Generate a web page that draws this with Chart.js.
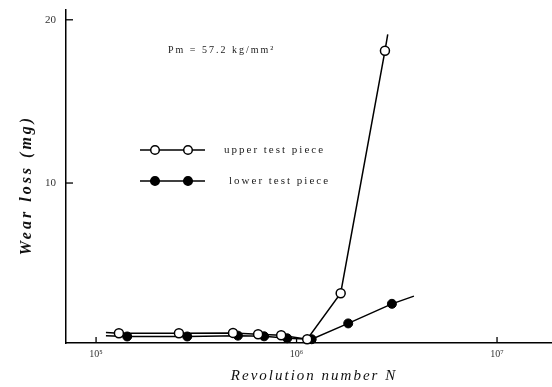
<!DOCTYPE html>
<html><head><meta charset="utf-8">
<script src="https://cdn.jsdelivr.net/npm/chart.js@4"></script>
<style>html,body{margin:0;padding:0;background:#fff}#wrap{width:552px;height:387px;position:relative}</style>
</head><body><div id="wrap"><canvas id="c"></canvas></div>
<script>
// Data (revolutions N, wear loss in mg)
const upperN    = [112000, 130000, 259000, 482000, 643000, 838000, 1130000, 1660000, 2760000, 2850000];
const upperWear = [0.85,   0.8,    0.8,    0.82,   0.74,   0.67,   0.43,    3.25,    18.1,    19.1];
const lowerN    = [112000, 143000, 285000, 510000, 689000, 898000, 1190000, 1810000, 2990000, 3850000];
const lowerWear = [0.65,   0.6,    0.6,    0.65,   0.61,   0.49,   0.43,    1.4,     2.6,     3.07];
const xTickValues = [1e5, 1e6, 1e7];
const xTickLabels = ['10\u2075', '10\u2076', '10\u2077'];
const yTickValues = [10, 20];
const seriesNames = ['upper test piece', 'lower test piece'];
const noteText = 'Pm = 57.2 kg/mm\u00b2';
const xTitle = 'Revolution number N';
const yTitle = 'Wear loss (mg)';

const toPts = (xs, ys) => xs.map((x, i) => ({x, y: ys[i]}));
const radiusFn = n => ctx => (ctx.dataIndex === 0 || ctx.dataIndex === n - 1) ? 0 : 4.5;

const overlay = {
  id: 'overlay',
  afterDraw(chart) {
    const {ctx, chartArea: a, scales: {x, y}} = chart;
    ctx.save();
    ctx.strokeStyle = '#000'; ctx.lineWidth = 1.3;
    yTickValues.forEach(v => { const py = y.getPixelForValue(v); ctx.beginPath(); ctx.moveTo(a.left, py); ctx.lineTo(a.left + 7, py); ctx.stroke(); });
    xTickValues.forEach(v => { const px = x.getPixelForValue(v); ctx.beginPath(); ctx.moveTo(px, a.bottom); ctx.lineTo(px, a.bottom - 6); ctx.stroke(); });
    // legend
    const drawItem = (yy, filled, label) => {
      ctx.beginPath(); ctx.moveTo(140, yy); ctx.lineTo(205, yy); ctx.lineWidth = 1.5; ctx.stroke();
      [155, 188].forEach(cx => { ctx.beginPath(); ctx.arc(cx, yy, 4.3, 0, Math.PI * 2); ctx.fillStyle = filled ? '#000' : '#fff'; ctx.fill(); ctx.lineWidth = 1.5; ctx.stroke(); });
      ctx.fillStyle = '#222'; ctx.font = '11px "Liberation Serif", serif'; ctx.letterSpacing = '2px';
      ctx.textBaseline = 'middle'; ctx.textAlign = 'left'; ctx.fillText(label, filled ? 229 : 224, yy);
    };
    drawItem(150, false, seriesNames[0]);
    drawItem(181, true, seriesNames[1]);
    ctx.fillStyle = '#222'; ctx.font = '10px "Liberation Serif", serif'; ctx.letterSpacing = '2px';
    ctx.fillText(noteText, 168, 50);
    // axis titles
    ctx.fillStyle = '#111'; ctx.font = 'italic 15px "Liberation Serif", serif'; ctx.letterSpacing = '2px';
    ctx.textAlign = 'center'; ctx.fillText(xTitle, 314, 376);
    ctx.translate(27, 185); ctx.rotate(-Math.PI / 2);
    ctx.font = 'italic bold 16px "Liberation Serif", serif'; ctx.letterSpacing = '3px';
    ctx.fillText(yTitle, 0, 0);
    ctx.restore();
  }
};

new Chart(document.getElementById('c'), {
  type: 'line',
  data: {
    datasets: [
      { label: seriesNames[0], data: toPts(upperN, upperWear), borderColor: '#000', borderWidth: 1.5,
        pointBackgroundColor: '#fff', pointBorderColor: '#000', pointBorderWidth: 1.5,
        pointRadius: radiusFn(upperN.length), tension: 0, clip: false },
      { label: seriesNames[1], data: toPts(lowerN, lowerWear), borderColor: '#000', borderWidth: 1.5,
        pointBackgroundColor: '#000', pointBorderColor: '#000', pointBorderWidth: 1,
        pointRadius: radiusFn(lowerN.length), tension: 0, clip: false }
    ]
  },
  options: {
    responsive: true, maintainAspectRatio: false, animation: false,
    layout: { padding: { top: 10, right: 0, left: 0, bottom: 0 } },
    plugins: { legend: { display: false }, tooltip: { enabled: false } },
    scales: {
      x: {
        type: 'logarithmic', min: 70800, max: 18800000,
        afterBuildTicks: s => { s.ticks = xTickValues.map(v => ({value: v})); },
        afterFit: s => { s.height = 44; s.paddingLeft = 0; s.paddingRight = 0; },
        grid: { display: false, drawTicks: false },
        border: { display: true, color: '#000', width: 1.5 },
        ticks: { autoSkip: false, maxRotation: 0, padding: 5, color: '#333',
          font: { family: '"Liberation Serif", serif', size: 10 },
          callback: (v, i) => xTickLabels[i] }
      },
      y: {
        min: 0.2, max: 20.6,
        afterBuildTicks: s => { s.ticks = yTickValues.map(v => ({value: v})); },
        afterFit: s => { s.width = 66; s.paddingTop = 0; s.paddingBottom = 0; },
        grid: { display: false, drawTicks: false },
        border: { display: true, color: '#000', width: 1.5 },
        ticks: { padding: 10, color: '#333', font: { family: '"Liberation Serif", serif', size: 11 } }
      }
    }
  },
  plugins: [overlay]
});
</script>
</body></html>
